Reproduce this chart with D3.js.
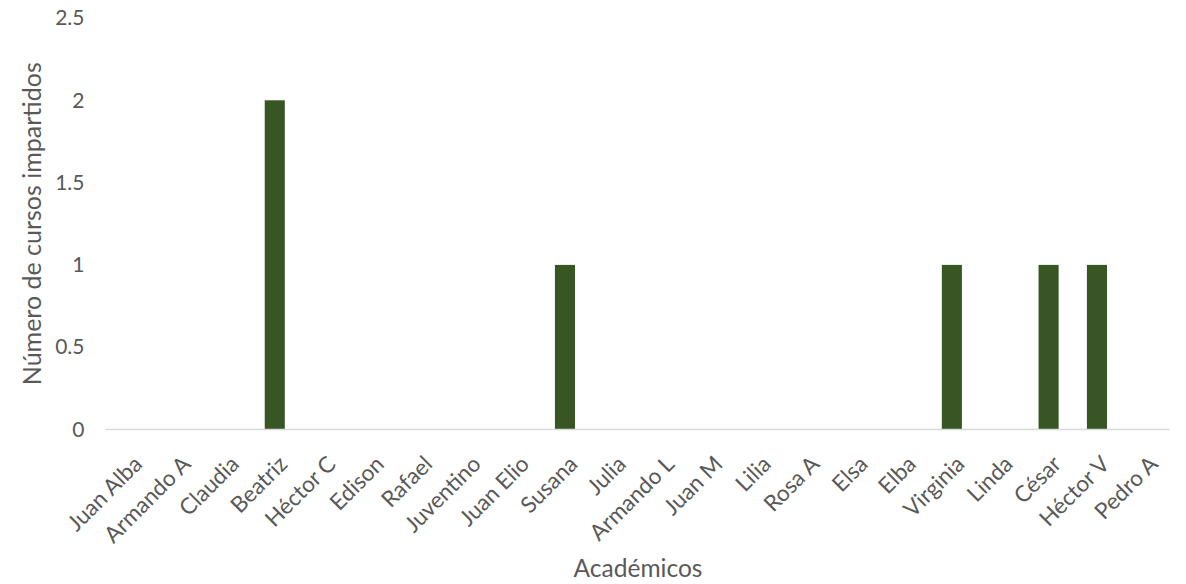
<!DOCTYPE html>
<html><head><meta charset="utf-8">
<script src="https://cdn.jsdelivr.net/npm/d3@7"></script>
<style>
body{margin:0;background:#fff;}
text{font-family:Lato,"Open Sans",sans-serif;fill:#595959;}
</style></head>
<body><svg id="c" width="1186" height="584"></svg>
<script>
const categories = ["Juan Alba","Armando A","Claudia","Beatriz","Héctor C","Edison","Rafael","Juventino","Juan Elio","Susana","Julia","Armando L","Juan M","Lilia","Rosa A","Elsa","Elba","Virginia","Linda","César","Héctor V","Pedro A"];
const values = [0,0,0,2,0,0,0,0,0,1,0,0,0,0,0,0,0,1,0,1,1,0];
const yTicks = [0,0.5,1,1.5,2,2.5];
const yTitle = "Número de cursos impartidos";
const xTitle = "Académicos";

(function(){
const svg = d3.select("#c");
const mLeft = 105.5, mRight = 1169.5, mTop = 18, mBottom = 429.5;
const x = d3.scaleBand().domain(categories).range([mLeft, mRight]).paddingInner(0.585).paddingOuter(0.2925);
const y = d3.scaleLinear().domain([0, 2.5]).range([mBottom, mTop]);

// bars
svg.append("g").selectAll("rect").data(categories.map((c,i)=>({c, v: values[i]})).filter(d=>d.v>0))
  .join("rect")
  .attr("x", d=>x(d.c)).attr("width", x.bandwidth())
  .attr("y", d=>y(d.v)).attr("height", d=>y(0)-y(d.v))
  .attr("fill", "#375623");

// y axis
const ya = svg.append("g").attr("transform", `translate(${mLeft},0)`)
  .call(d3.axisLeft(y).tickValues(yTicks).tickSize(0).tickPadding(21).tickFormat(d=>String(d)));
ya.select(".domain").remove();
ya.selectAll("text").style("font-size","21px").attr("fill","#595959");

// x axis
const xa = svg.append("g").attr("transform", `translate(0,${mBottom})`)
  .call(d3.axisBottom(x).tickSize(0).tickPadding(0));
xa.select(".domain").attr("stroke","#d9d9d9").attr("stroke-width",1.5).attr("d", `M${mLeft},0H${mRight}`);
xa.selectAll("text").style("font-size","22.5px").attr("fill","#595959")
  .attr("text-anchor","end")
  .attr("dy", null).attr("y", 0)
  .attr("transform","translate(14,36) rotate(-45)");

// titles
svg.append("text").attr("x", (mLeft+mRight)/2 + 0.5).attr("y", 577)
  .attr("text-anchor","middle").style("font-size","24.5px").text(xTitle);
svg.append("text").attr("transform", `translate(41,${(mTop+mBottom)/2}) rotate(-90)`)
  .attr("text-anchor","middle").style("font-size","25px").text(yTitle);
})();
</script></body></html>
